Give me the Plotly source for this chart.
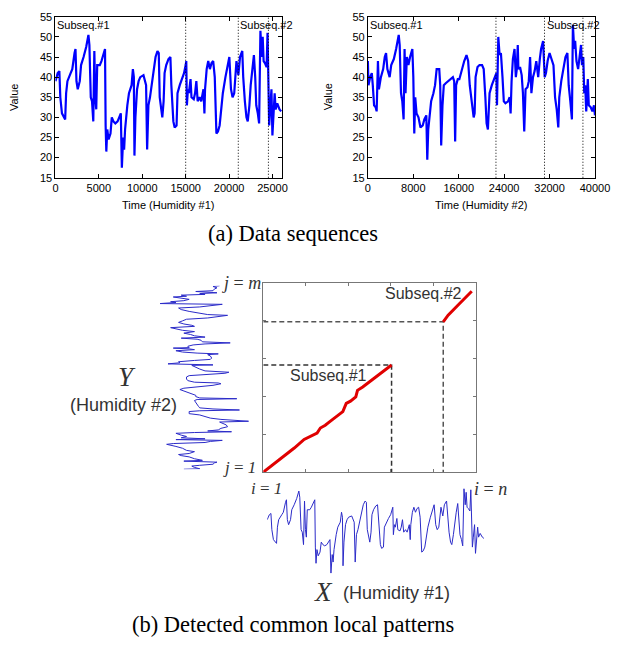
import plotly.graph_objects as go

W, H = 626, 646
def px(x): return x / W
def py(y): return 1 - y / H

# ---------------- data ----------------
# Humidity #1 (time, value)
t1 = [0, 260, 450, 560, 750, 1000, 1120, 1230, 1380, 1750, 1940, 2200, 2310, 2420, 2570, 2800, 2950,
      3240, 3540, 3800, 3910, 4070, 4210, 4360, 4480, 4590, 4700, 4810, 5110, 5300, 5560, 5710, 5780,
      5860, 5970, 6120, 6340, 6490, 6680, 6900, 7160, 7420, 7530, 7650, 7800, 7910, 8020, 8280, 8470,
      8770, 8920, 9030, 9100, 9210, 9400, 9580, 9770, 10140, 10440, 10560, 10710, 10890, 11080, 11260,
      11530, 11750, 11900, 12010, 12200, 12310, 12460, 12570, 12760, 13020, 13240, 13350, 13580, 13730,
      13950, 14060, 14320, 14550, 14810, 15000, 15070, 15140, 15260, 15370, 15560, 15670, 15930, 16080,
      16230, 16380, 16600, 16790, 17050, 17160, 17230, 17420, 17600, 17790, 17980, 18170, 18350, 18540,
      18720, 18910, 19090, 19280, 19580, 19840, 20030, 20220, 20400, 20590, 20700, 20850, 21070, 21260,
      21520, 21630, 21820, 22000, 22150, 22340, 22490, 22680, 22860, 23010, 23130, 23310, 23460, 23610,
      23760, 23870, 23980, 24130, 24320, 24430, 24510, 24620, 24730, 24880, 24990, 25140, 25250, 25360,
      25550, 25810, 26000]
v1 = [39, 41, 41.5, 35, 31, 30, 29.5, 36, 39, 41, 42, 46, 47, 39, 37, 39, 43,
      45, 47.5, 50.5, 48, 35, 34, 29, 46.5, 35, 32, 43, 43, 44, 46, 47, 28,
      21.5, 27, 24.5, 26, 30, 29, 28.5, 29, 30.5, 31, 17.5, 25, 22, 27, 33, 36,
      38, 42, 40, 20.5, 30, 37, 39, 40, 40.5, 38, 22, 33, 35, 38, 42,
      45, 46.5, 46, 35, 31, 30, 34, 41, 43, 44.5, 45, 38, 29, 27.5,
      28, 36, 38, 39.5, 41, 43, 44, 33, 37, 36, 39.5, 35, 34.5, 36,
      39, 34, 35, 34, 37, 31, 37, 42, 44, 42, 43.5, 44, 40, 26,
      26.5, 28, 32, 36, 40, 43, 45, 37, 35, 36, 41, 44, 40.5, 45,
      46.5, 40, 34, 30, 29, 33, 38, 42, 45.5, 40, 33, 31, 28.5, 51.5,
      45, 50, 44, 43.5, 42.5, 51, 38, 28, 32, 37, 25.5, 31, 36, 32,
      33.5, 32, 31.5]

# Humidity #2 (time, value)
t2 = [0, 100, 400, 690, 860, 1090, 1370, 1540, 1770, 1940, 2290, 2690, 2970, 3200, 3430, 3830, 4110,
      4570, 4970, 5430, 5600, 5830, 6060, 6290, 6460, 6630, 6860, 7140, 7430, 7830, 8000, 8170, 8340,
      8570, 8910, 9260, 9660, 9940, 10290, 10460, 10630, 10860, 11140, 11540, 11830, 12110, 12570,
      12740, 12910, 13140, 13370, 13710, 14110, 14510, 14970, 15200, 15370, 15540, 15830, 16110, 16570,
      16970, 17370, 17660, 17940, 18290, 18630, 18800, 18970, 19310, 19660, 20110, 20400, 20690, 20910,
      21140, 21430, 21830, 22290, 22630, 22740, 22970, 23200, 23430, 23710, 23940, 24230, 24690, 24970,
      25140, 25310, 25540, 25830, 26060, 26230, 26400, 26510, 26800, 27090, 27310, 27540, 27770, 28110,
      28340, 28570, 28800, 29080, 29370, 29660, 30000, 30280, 30510, 30860, 31140, 31370, 31660, 32000,
      32340, 32690, 32970, 33260, 33540, 33710, 34060, 34400, 34800, 35140, 35370, 35660, 35940, 36110,
      36340, 36510, 36740, 37030, 37310, 37540, 37710, 37940, 38110, 38280, 38460, 38740, 38910, 39260,
      39540, 39830, 40000]
v2 = [44, 38, 40, 41, 38, 33, 32.5, 31.5, 44, 37, 40, 42, 45, 46, 42, 40, 43,
      44.5, 47, 50.5, 48, 36, 34, 29.5, 47, 36, 45, 43, 45, 47, 40, 26, 35,
      31, 30, 27.5, 28, 29.5, 30.5, 19.5, 27, 30, 34, 36, 38, 42, 42,
      38, 23, 33, 38, 38.5, 39, 39.5, 40, 39, 24, 38, 39.5, 39.5, 42,
      44, 45.5, 44, 38, 33, 30, 31, 40, 42.5, 43, 43, 42, 35, 28.5,
      27, 36, 38, 39.5, 41, 33, 50, 45.5, 46, 40, 34, 33.5, 34, 35,
      31, 39, 44.5, 47, 40, 42, 48, 42, 42.5, 40.5, 36, 26.5, 37, 37.5,
      39, 45, 36, 40, 41.5, 44, 40, 44.5, 47, 49, 40, 41, 44, 46,
      44.5, 43, 35, 32, 27.5, 35, 39, 42, 45, 46, 38, 34, 29.5, 53,
      47, 49, 44, 42, 46, 48, 43, 45, 36, 38, 31.5, 39.5, 33, 32.5,
      31.5, 33, 30.5]

# detected subsequence boundaries (time)
bounds1 = [15000, 21060, 24530]
bounds2 = [22560, 31110, 37880]
subseq_labels = ["Subseq.#1", "Subseq.#2"]

# warping paths (i on Humidity #1, j on Humidity #2)
path1_i = [0, 1300, 2610, 3800, 5010, 5900, 6600, 7000, 7600, 8200, 9000, 9760, 10180, 10700,
           11350, 11560, 12200, 12950, 14300, 15740]
path1_j = [0, 1700, 3440, 5100, 6920, 7700, 8280, 9320, 9900, 10720, 11700, 12800, 14520, 15000,
           15880, 17280, 18000, 19000, 20800, 22640]
path2_i = [22080, 22680, 24060, 25580]
path2_j = [31760, 33160, 35560, 38200]

I_MAX, J_MAX = 26100, 40000

# ---------------- figure ----------------
fig = go.Figure()

blue = "#0000ff"
fig.add_trace(go.Scatter(x=t1, y=v1, mode="lines", line=dict(color=blue, width=2.2),
                         xaxis="x", yaxis="y", showlegend=False))
fig.add_trace(go.Scatter(x=t2, y=v2, mode="lines", line=dict(color=blue, width=2.2),
                         xaxis="x2", yaxis="y2", showlegend=False))

# bottom diagram: dashed guides
dcol = "#333333"
fig.add_trace(go.Scatter(x=[0, path1_i[-1], path1_i[-1]], y=[path1_j[-1], path1_j[-1], 0],
                         mode="lines", line=dict(color=dcol, width=1.5, dash="5px,3px"),
                         xaxis="x3", yaxis="y3", showlegend=False))
fig.add_trace(go.Scatter(x=[0, path2_i[0], path2_i[0]], y=[path2_j[0], path2_j[0], 0],
                         mode="lines", line=dict(color="#555555", width=1.5, dash="5px,3px"),
                         xaxis="x3", yaxis="y3", showlegend=False))
# warping paths
fig.add_trace(go.Scatter(x=path1_i, y=path1_j, mode="lines", line=dict(color="#e00000", width=3),
                         xaxis="x3", yaxis="y3", showlegend=False))
fig.add_trace(go.Scatter(x=path2_i, y=path2_j, mode="lines", line=dict(color="#e00000", width=3),
                         xaxis="x3", yaxis="y3", showlegend=False))
# Y curve (Humidity #2, vertical)
fig.add_trace(go.Scatter(x=v2, y=t2, mode="lines", line=dict(color="#2b2bc8", width=1),
                         xaxis="x4", yaxis="y4", showlegend=False))
# X curve (Humidity #1)
fig.add_trace(go.Scatter(x=t1, y=v1, mode="lines", line=dict(color="#2b2bc8", width=1),
                         xaxis="x5", yaxis="y5", showlegend=False))

tickfont = dict(family="Liberation Sans, Arial", size=11, color="black")
frame = dict(showline=True, linecolor="black", linewidth=1, mirror="allticks", ticks="inside",
             ticklen=4, tickcolor="black", showgrid=False, zeroline=False, tickfont=tickfont,
             tickformat="d")

hidden = dict(visible=False, showgrid=False, zeroline=False)

fig.update_layout(
    width=W, height=H, margin=dict(l=0, r=0, t=0, b=0),
    paper_bgcolor="white", plot_bgcolor="rgba(0,0,0,0)",
    xaxis=dict(domain=[px(54), px(287.3)], range=[0, 26100], dtick=5000, tick0=0, anchor="y", **frame),
    yaxis=dict(domain=[py(175), py(11)], range=[15, 55], dtick=5, anchor="x", **frame),
    xaxis2=dict(domain=[px(375.7), px(609.5)], range=[0, 40000], dtick=8000, tick0=0, anchor="y2", **frame),
    yaxis2=dict(domain=[py(175), py(11)], range=[15, 55], dtick=5, anchor="x2", **frame),
    xaxis3=dict(domain=[px(268), px(487)], range=[0, I_MAX], tick0=0, dtick=I_MAX / 5, anchor="y3",
                showline=True, linecolor="#777777", linewidth=1, mirror="allticks", ticks="inside",
                ticklen=3, tickcolor="#777777", showticklabels=False, showgrid=False, zeroline=False),
    yaxis3=dict(domain=[py(475), py(282)], range=[0, J_MAX], tick0=0, dtick=J_MAX / 5, anchor="x3",
                showline=True, linecolor="#777777", linewidth=1, mirror="allticks", ticks="inside",
                ticklen=3, tickcolor="#777777", showticklabels=False, showgrid=False, zeroline=False),
    xaxis4=dict(domain=[px(161.7), px(253)], range=[53, 19.5], anchor="y4", **hidden),
    yaxis4=dict(domain=[py(472), py(285)], range=[0, 40000], anchor="x4", **hidden),
    xaxis5=dict(domain=[px(272), px(496)], range=[0, 26100], anchor="y5", **hidden),
    yaxis5=dict(domain=[py(578), py(491.7)], range=[17.5, 51.5], anchor="x5", **hidden),
)

shapes = []
for b in bounds1:
    shapes.append(dict(type="line", xref="x", yref="y domain", x0=b, x1=b, y0=0, y1=1,
                       line=dict(color="black", width=1, dash="1px,2px")))
for b in bounds2:
    shapes.append(dict(type="line", xref="x2", yref="y2 domain", x0=b, x1=b, y0=0, y1=1,
                       line=dict(color="black", width=1, dash="1px,2px")))
fig.update_layout(shapes=shapes)

sans = "Liberation Sans, Arial"
serif = "Liberation Serif, Times New Roman"
ann = []
lab_y = (175 - 19) / 164
for xr, yr, bnds in (("x", "y domain", bounds1), ("x2", "y2 domain", bounds2)):
    ann.append(dict(text=subseq_labels[0], xref=xr, yref=yr, x=0, y=lab_y, xanchor="left",
                    yanchor="middle", showarrow=False, font=dict(family=sans, size=11, color="black")))
    ann.append(dict(text=subseq_labels[1], xref=xr, yref=yr, x=bnds[1], y=lab_y, xanchor="left",
                    yanchor="middle", showarrow=False, font=dict(family=sans, size=11, color="black")))

def A(text, x, y, family, size, color="black", angle=0, pad=1):
    ann.append(dict(text=text, xref="paper", yref="paper", x=px(x), y=py(y), xanchor="center",
                    yanchor="middle", showarrow=False, textangle=angle, borderpad=pad,
                    font=dict(family=family, size=size, color=color)))

A("Value", 12, 93, sans, 11, angle=-90)
A("Value", 334.7, 93, sans, 11, angle=-90)
A("Time (Humidity #1)", 170.6, 203, sans, 11)
A("Time (Humidity #2)", 492.6, 203, sans, 11)
A("(a) Data sequences", 298.3, 232, serif, 22.5)
A("(b) Detected common local patterns", 298.3, 630, serif, 22.5)

g = "#333333"
A("Subseq.#1", 334.7, 376, sans, 16, g)
A("Subseq.#2", 433, 292.7, sans, 16, g)
A("<i>j</i> = <i>m</i>", 246, 282, serif, 18, g, pad=0)
A("<i>j</i> = <i>1</i>", 243, 470, serif, 17, g, pad=0)
A("<i>i</i> = <i>1</i>", 271, 492, serif, 17, g, pad=0)
A("<i>i</i> = <i>n</i>", 502, 492, serif, 18, g, pad=0)
A("<i>Y</i>", 127.5, 378, serif, 27, g)
A("(Humidity #2)", 124, 407, sans, 18, g)
A("<i>X</i>", 330, 597, serif, 27, g)
A("(Humidity #1)", 405, 598, sans, 18, g)

fig.update_layout(annotations=ann)
fig.write_html("out.html")
